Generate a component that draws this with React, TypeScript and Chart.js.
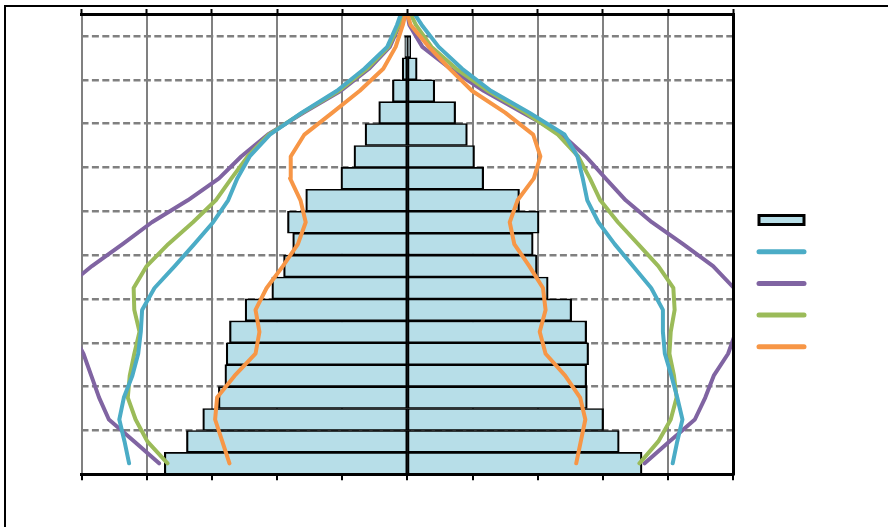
import { useEffect, useRef } from 'react';
import { Chart, registerables } from 'chart.js';

Chart.register(...registerables);

// Age groups (bottom to top)
const ageGroups = ['0-4', '5-9', '10-14', '15-19', '20-24', '25-29', '30-34', '35-39', '40-44', '45-49', '50-54', '55-59', '60-64', '65-69', '70-74', '75-79', '80-84', '85-89', '90-94', '95-99', '100+'];
const ageMidpoints = [2.5, 7.5, 12.5, 17.5, 22.5, 27.5, 32.5, 37.5, 42.5, 47.5, 52.5, 57.5, 62.5, 67.5, 72.5, 77.5, 82.5, 87.5, 92.5, 97.5, 102.5];
const lineAges = [2.5, 7.5, 12.5, 17.5, 22.5, 27.5, 32.5, 37.5, 42.5, 47.5, 52.5, 57.5, 62.5, 67.5, 72.5, 77.5, 82.5, 87.5, 92.5, 97.5, 102.5, 105];

// Bars: share of population (%), male negative / female positive
const maleBars = [-3.73, -3.39, -3.14, -2.90, -2.80, -2.78, -2.73, -2.49, -2.08, -1.90, -1.76, -1.84, -1.56, -1.02, -0.82, -0.65, -0.44, -0.23, -0.08, -0.04, 0];
const femaleBars = [3.60, 3.25, 3.01, 2.76, 2.75, 2.78, 2.75, 2.52, 2.16, 1.99, 1.93, 2.02, 1.72, 1.17, 1.03, 0.92, 0.74, 0.42, 0.15, 0.05, 0];

// Comparison lines
const cyanLeft = [-4.27, -4.34, -4.42, -4.35, -4.22, -4.13, -4.09, -4.07, -3.88, -3.57, -3.27, -2.98, -2.75, -2.61, -2.42, -2.11, -1.62, -1.08, -0.66, -0.31, -0.16, -0.10];
const cyanRight = [4.07, 4.14, 4.22, 4.14, 4.05, 3.95, 3.92, 3.92, 3.74, 3.46, 3.18, 2.93, 2.76, 2.69, 2.61, 2.41, 1.87, 1.28, 0.84, 0.48, 0.22, 0.11];
const purpleLeft = [-3.81, -4.19, -4.58, -4.73, -4.85, -4.97, -5.15, -5.35, -5.25, -4.84, -4.37, -3.92, -3.37, -2.89, -2.55, -2.14, -1.59, -1.02, -0.59, -0.27, -0.12, -0.05];
const purpleRight = [3.64, 4.02, 4.41, 4.57, 4.70, 4.92, 5.04, 5.07, 5.01, 4.69, 4.23, 3.75, 3.35, 3.04, 2.74, 2.37, 1.77, 1.17, 0.66, 0.23, 0.03, 0.0];
const greenLeft = [-3.68, -3.99, -4.17, -4.29, -4.26, -4.19, -4.11, -4.19, -4.20, -4.00, -3.67, -3.29, -2.94, -2.70, -2.45, -2.13, -1.61, -1.05, -0.62, -0.29, -0.13, -0.07];
const greenRight = [3.56, 3.85, 4.04, 4.13, 4.09, 4.02, 4.04, 4.10, 4.08, 3.85, 3.54, 3.23, 2.96, 2.80, 2.62, 2.31, 1.81, 1.23, 0.75, 0.37, 0.13, 0.05];
const orangeLeft = [-2.73, -2.84, -2.95, -2.92, -2.65, -2.33, -2.27, -2.33, -2.16, -1.91, -1.68, -1.56, -1.64, -1.80, -1.79, -1.58, -1.15, -0.73, -0.37, -0.18, -0.07, -0.03];
const orangeRight = [2.59, 2.66, 2.73, 2.65, 2.42, 2.12, 2.03, 2.12, 2.08, 1.87, 1.64, 1.57, 1.69, 1.94, 2.04, 1.93, 1.50, 0.99, 0.65, 0.33, 0.05, 0.0];

const BAR_FILL = '#B7DEE8';
const CYAN = '#4BACC6';
const PURPLE = '#8064A2';
const GREEN = '#9BBB59';
const ORANGE = '#F79646';
const GRID = '#808080';

export default function App() {
  const ref = useRef<HTMLCanvasElement>(null);

  useEffect(() => {
    const canvas = ref.current;
    if (!canvas) return;

    const toBars = (vals: number[]) => ageMidpoints.map((a, i) => ({ x: vals[i], y: a }));
    const toLine = (vals: number[]) => lineAges.map((a, i) => ({ x: vals[i], y: a }));

    const barStyle = {
      type: 'bar' as const,
      backgroundColor: BAR_FILL,
      borderColor: '#000000',
      borderWidth: { top: 1.6, bottom: 1.6, left: 2.2, right: 2.2 },
      borderSkipped: false,
      grouped: false,
      barPercentage: 1,
      categoryPercentage: 1,
      order: 20,
    };

    const series = [
      { name: 'orange', color: ORANGE, left: orangeLeft, right: orangeRight, order: 1 },
      { name: 'cyan', color: CYAN, left: cyanLeft, right: cyanRight, order: 2 },
      { name: 'green', color: GREEN, left: greenLeft, right: greenRight, order: 3 },
      { name: 'purple', color: PURPLE, left: purpleLeft, right: purpleRight, order: 4 },
    ];

    const lineStyle = (color: string, order: number) => ({
      type: 'line' as const,
      borderColor: color,
      backgroundColor: color,
      borderWidth: 4,
      pointRadius: 0,
      pointHoverRadius: 0,
      tension: 0,
      fill: false,
      borderCapStyle: 'round' as const,
      borderJoinStyle: 'round' as const,
      clip: 0,
      order,
    });

    const datasets: any[] = [
      { ...barStyle, label: 'male ' + ageGroups[0], data: toBars(maleBars) },
      { ...barStyle, label: 'female ' + ageGroups[0], data: toBars(femaleBars) },
    ];
    series.forEach((s) => {
      datasets.push({ ...lineStyle(s.color, s.order), label: s.name + '-m', data: toLine(s.left) });
      datasets.push({ ...lineStyle(s.color, s.order), label: s.name + '-f', data: toLine(s.right) });
    });

    const legendColors = [CYAN, PURPLE, GREEN, ORANGE];
    const legendItems = [
      { text: '', fillStyle: BAR_FILL, strokeStyle: '#000000', lineWidth: 3, pointStyle: 'rect', rotation: 0, hidden: false, datasetIndex: 0 },
      ...legendColors.map((c, i) => ({
        text: '', fillStyle: c, strokeStyle: c, lineWidth: 5, lineCap: 'round', pointStyle: 'line', rotation: 0, hidden: false, datasetIndex: 2 + i * 2,
      })),
    ];

    const chart = new Chart(canvas, {
      type: 'bar',
      data: { datasets },
      options: {
        responsive: false,
        animation: false,
        devicePixelRatio: 1,
        indexAxis: 'y',
        layout: { padding: { left: 81.5, right: 68, top: 9, bottom: 46.7 } },
        scales: {
          x: {
            type: 'linear',
            position: 'bottom',
            min: -5,
            max: 5,
            offset: false,
            ticks: { stepSize: 1, display: false },
            grid: {
              offset: false,
              color: GRID,
              lineWidth: (c: any) => (c.tick && c.tick.value === 0 ? 0 : 2),
              drawTicks: true,
              tickLength: 6,
              tickColor: '#000000',
              tickWidth: 2,
            },
            border: { display: true, color: '#000000', width: 3, z: 1 },
          },
          x2: {
            type: 'linear',
            position: 'top',
            min: -5,
            max: 5,
            offset: false,
            ticks: { stepSize: 1, display: false },
            grid: { offset: false, drawOnChartArea: false, drawTicks: true, tickLength: 5, tickColor: '#000000', tickWidth: 2 },
            border: { display: true, color: '#000000', width: 3, z: 1 },
          },
          y: {
            type: 'linear',
            position: 'right',
            min: 0,
            max: 105,
            offset: false,
            ticks: { stepSize: 10, display: false, includeBounds: false },
            grid: { offset: false, color: GRID, lineWidth: 2.5, drawTicks: true, tickLength: 6, tickColor: 'rgba(0,0,0,0)' },
            border: { display: true, color: '#000000', width: 3, dash: [7, 3.4], z: 1 },
          },
        } as any,
        plugins: {
          tooltip: { enabled: false },
          legend: {
            position: 'right',
            align: 'center',
            title: { display: true, text: '', font: { size: 12 }, padding: { top: 63.1, bottom: 0 } },
            labels: {
              usePointStyle: true,
              pointStyleWidth: 45,
              boxHeight: 9,
              padding: 19.7,
              font: { size: 12 },
              generateLabels: () => legendItems as any,
            },
          },
        },
      } as any,
    });

    return () => chart.destroy();
  }, []);

  return (
    <div style={{ position: 'absolute', left: 0, top: 0, width: 888, height: 527, overflow: 'hidden' }}>
      <div
        style={{
          position: 'absolute',
          left: 4,
          top: 5,
          width: 884,
          height: 522,
          borderLeft: '2px solid #000',
          borderTop: '2px solid #000',
          boxSizing: 'border-box',
        }}
      />
      <canvas ref={ref} width={888} height={527} style={{ position: 'absolute', left: 0, top: 0 }} />
    </div>
  );
}
